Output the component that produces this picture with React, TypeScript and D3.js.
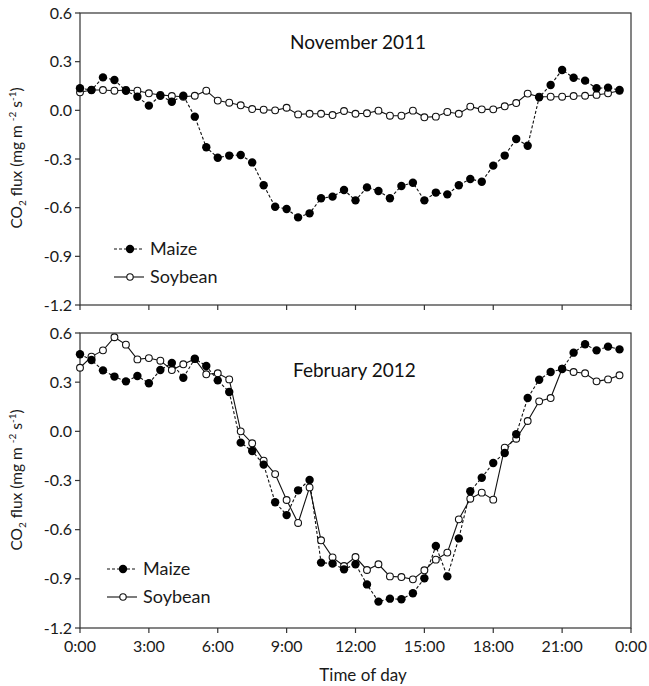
import React from "react";
import * as d3 from "d3";

// half-hourly observations, 0:00 .. 23:30
const hours = d3.range(0, 24, 0.5);

const xTicks = [0, 3, 6, 9, 12, 15, 18, 21, 24];
const xTickLabels = ["0:00", "3:00", "6:00", "9:00", "12:00", "15:00", "18:00", "21:00", "0:00"];
const yTicks = [0.6, 0.3, 0.0, -0.3, -0.6, -0.9, -1.2];

const novMaize = [
  0.136, 0.125, 0.203, 0.187, 0.121, 0.084, 0.029, 0.09, 0.053, 0.09, -0.039, -0.228,
  -0.292, -0.279, -0.275, -0.321, -0.462, -0.594, -0.608, -0.66, -0.635, -0.542, -0.532, -0.491,
  -0.555, -0.475, -0.497, -0.542, -0.466, -0.446, -0.555, -0.507, -0.518, -0.462, -0.423, -0.44,
  -0.341, -0.279, -0.177, -0.218, 0.08, 0.156, 0.249, 0.201, 0.183, 0.136, 0.14, 0.125,
];
const novSoybean = [
  0.111, 0.125, 0.125, 0.121, 0.125, 0.121, 0.105, 0.095, 0.088, 0.084, 0.09, 0.121,
  0.06, 0.047, 0.031, 0.008, 0.004, 0.0, 0.016, -0.025, -0.021, -0.021, -0.029, -0.004,
  -0.021, -0.018, -0.002, -0.033, -0.033, -0.002, -0.043, -0.039, -0.01, -0.021, 0.023, 0.006,
  0.006, 0.025, 0.045, 0.103, 0.084, 0.084, 0.084, 0.088, 0.09, 0.095, 0.105, 0.121,
];
const febMaize = [
  0.47, 0.435, 0.372, 0.334, 0.305, 0.338, 0.293, 0.374, 0.417, 0.327, 0.443, 0.399,
  0.311, 0.24, -0.069, -0.12, -0.203, -0.433, -0.511, -0.36, -0.297, -0.801, -0.807, -0.842,
  -0.811, -0.934, -1.039, -1.021, -1.025, -0.988, -0.897, -0.7, -0.885, -0.653, -0.366, -0.283,
  -0.193, -0.132, -0.018, 0.203, 0.315, 0.362, 0.38, 0.48, 0.531, 0.494, 0.517, 0.5,
];
const febSoybean = [
  0.388, 0.456, 0.494, 0.574, 0.529, 0.439, 0.447, 0.431, 0.374, 0.409, 0.441, 0.348,
  0.354, 0.317, 0.0, -0.073, -0.179, -0.261, -0.419, -0.559, -0.342, -0.665, -0.769, -0.822,
  -0.767, -0.846, -0.811, -0.885, -0.889, -0.903, -0.848, -0.783, -0.74, -0.537, -0.411, -0.374,
  -0.417, -0.1, -0.045, 0.063, 0.183, 0.203, 0.382, 0.362, 0.354, 0.305, 0.317, 0.342,
];

const FONT = "Lato, 'Open Sans', sans-serif";
const left = 80;
const right = 631;

const x = d3.scaleLinear().domain([0, 24]).range([left, right]);

function Panel({ top, bottom, title, titleX, titleY, legX, legY, maize, soybean, showLabels, labelY }) {
  const y = d3.scaleLinear().domain([-1.2, 0.6]).range([bottom, top]);
  const line = d3
    .line<number>()
    .x((_, i) => x(hours[i]))
    .y((d) => y(d));

  return (
    <g>
      {/* frame */}
      <rect x={left} y={top} width={right - left} height={bottom - top} fill="none" stroke="#333" strokeWidth={1.2} />

      {/* y axis */}
      {yTicks.map((t) => (
        <g key={t}>
          <line x1={left - 5} x2={left} y1={y(t)} y2={y(t)} stroke="#333" strokeWidth={1.2} />
          <text x={left - 8} y={y(t)} dy="0.35em" textAnchor="end" fontSize={16} fill="#1a1a1a">
            {t.toFixed(1)}
          </text>
        </g>
      ))}

      {/* x axis */}
      {xTicks.map((t, i) => (
        <g key={i}>
          <line x1={x(t)} x2={x(t)} y1={bottom} y2={bottom + 5} stroke="#333" strokeWidth={1.2} />
          {showLabels && (
            <text x={x(t)} y={bottom + 24} textAnchor="middle" fontSize={16} fill="#1a1a1a">
              {xTickLabels[i]}
            </text>
          )}
        </g>
      ))}

      {/* y label */}
      <text transform={`translate(22,${labelY}) rotate(-90)`} textAnchor="middle" fontSize={15.5} fill="#1a1a1a">
        CO<tspan fontSize={10} dy={4}>2</tspan>
        <tspan dy={-4}> flux (mg m </tspan>
        <tspan fontSize={10} dy={-6}>-2</tspan>
        <tspan dy={6}> s</tspan>
        <tspan fontSize={10} dy={-6}>-1</tspan>
        <tspan dy={6}>)</tspan>
      </text>

      <text x={titleX} y={titleY} dy="0.35em" fontSize={19} fill="#111">
        {title}
      </text>

      {/* series */}
      <path d={line(soybean)} fill="none" stroke="#111" strokeWidth={1.1} />
      <path d={line(maize)} fill="none" stroke="#111" strokeWidth={1.1} strokeDasharray="3,2" />
      {soybean.map((v, i) => (
        <circle key={"s" + i} cx={x(hours[i])} cy={y(v)} r={3.4} fill="#fff" stroke="#111" strokeWidth={1.1} />
      ))}
      {maize.map((v, i) => (
        <circle key={"m" + i} cx={x(hours[i])} cy={y(v)} r={4.2} fill="#000" />
      ))}

      {/* legend */}
      <g transform={`translate(${legX},${legY})`}>
        <line x1={0} x2={30} y1={0} y2={0} stroke="#111" strokeWidth={1.1} strokeDasharray="3,2" />
        <circle cx={16} cy={0} r={4.2} fill="#000" />
        <text x={36} y={0} dy="0.35em" fontSize={18} fill="#1a1a1a">Maize</text>
        <line x1={0} x2={30} y1={28} y2={28} stroke="#111" strokeWidth={1.1} />
        <circle cx={16} cy={28} r={3.2} fill="#fff" stroke="#111" strokeWidth={1.1} />
        <text x={36} y={28} dy="0.35em" fontSize={18} fill="#1a1a1a">Soybean</text>
      </g>
    </g>
  );
}

export default function App() {
  return (
    <svg
      width={649}
      height={686}
      style={{ position: "absolute", left: 0, top: 0, background: "#fff" }}
      fontFamily={FONT}
    >
      <rect width={649} height={686} fill="#fff" />
      <Panel
        top={13}
        bottom={305}
        title="November 2011"
        titleX={290}
        titleY={42}
        legX={114}
        legY={249}
        maize={novMaize}
        soybean={novSoybean}
        showLabels={false}
        labelY={158}
      />
      <Panel
        top={333}
        bottom={628}
        title="February 2012"
        titleX={293}
        titleY={370}
        legX={107}
        legY={569}
        maize={febMaize}
        soybean={febSoybean}
        showLabels={true}
        labelY={480}
      />
      <text x={363} y={675} dy="0.35em" textAnchor="middle" fontSize={17} fill="#1a1a1a">
        Time of day
      </text>
    </svg>
  );
}
